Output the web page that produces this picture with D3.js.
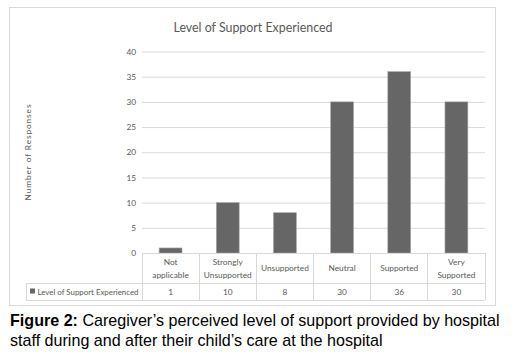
<!DOCTYPE html>
<html>
<head>
<meta charset="utf-8">
<script src="https://cdn.jsdelivr.net/npm/d3@7"></script>
<style>
  body { margin: 0; background: #fff; }
  svg { display: block; }
</style>
</head>
<body>
<svg id="chart"></svg>
<script>
// chart data
const categories = [["Not", "applicable"], ["Strongly", "Unsupported"], ["Unsupported"], ["Neutral"], ["Supported"], ["Very", "Supported"]];
const values = [1, 10, 8, 30, 36, 30];
const yTicks = [0, 5, 10, 15, 20, 25, 30, 35, 40];
const seriesName = "Level of Support Experienced";
const chartTitle = "Level of Support Experienced";
const yTitle = "Number of Responses";

const W = 531, H = 360;
const chartFont = "Lato, 'Open Sans', sans-serif";
const textGray = "#595959";
const lineGray = "#d9d9d9";
const small = 8.3;

const svg = d3.select("#chart").attr("width", W).attr("height", H);

// outer chart frame
svg.append("rect")
    .attr("x", 9.5).attr("y", 7.5)
    .attr("width", 486).attr("height", 298)
    .attr("fill", "#fff")
    .attr("stroke", lineGray);

const plot = { left: 142, right: 485, top: 51.5, bottom: 253 };

const x = d3.scaleBand()
    .domain(d3.range(categories.length))
    .range([plot.left, plot.right])
    .paddingInner(0.6).paddingOuter(0.3);

const band = d3.scaleBand()
    .domain(d3.range(categories.length))
    .range([plot.left, plot.right]);

const y = d3.scaleLinear().domain([0, 40]).range([plot.bottom, plot.top]);

// title
svg.append("text")
    .attr("x", 253).attr("y", 32)
    .attr("text-anchor", "middle")
    .attr("font-family", chartFont).attr("font-size", 12.4)
    .attr("fill", textGray)
    .text(chartTitle);

// gridlines + y labels
const yAxis = d3.axisLeft(y).tickValues(yTicks)
    .tickSize(-(plot.right - plot.left)).tickPadding(6);
const yg = svg.append("g")
    .attr("transform", `translate(${plot.left},0)`)
    .call(yAxis);
yg.select(".domain").remove();
yg.selectAll(".tick line").attr("stroke", lineGray);
yg.selectAll(".tick text")
    .attr("font-family", chartFont).attr("font-size", small)
    .attr("fill", textGray);

// y title
svg.append("text")
    .attr("transform", `translate(31,152) rotate(-90)`)
    .attr("text-anchor", "middle")
    .attr("font-family", chartFont).attr("font-size", small)
    .attr("letter-spacing", 0.9)
    .attr("fill", textGray)
    .text(yTitle);

// bars
svg.append("g").selectAll("rect")
    .data(values)
    .join("rect")
    .attr("x", (d, i) => x(i))
    .attr("y", d => y(d))
    .attr("width", x.bandwidth())
    .attr("height", d => y(0) - y(d))
    .attr("fill", "#666666")
    .attr("stroke", "#a6a6a6")
    .attr("stroke-width", 0.6);

// data table
const rowTop = plot.bottom, rowMid = 283, rowBot = 300, legendLeft = 26;
const tbl = svg.append("g")
    .attr("stroke", lineGray).attr("fill", "none").attr("shape-rendering", "crispEdges");
tbl.append("line").attr("x1", plot.left).attr("x2", plot.right).attr("y1", rowTop).attr("y2", rowTop);
tbl.append("line").attr("x1", legendLeft).attr("x2", plot.right).attr("y1", rowMid).attr("y2", rowMid);
tbl.append("line").attr("x1", legendLeft).attr("x2", plot.right).attr("y1", rowBot).attr("y2", rowBot);
tbl.append("line").attr("x1", legendLeft).attr("x2", legendLeft).attr("y1", rowMid).attr("y2", rowBot);
tbl.selectAll(".vline")
    .data(d3.range(categories.length + 1))
    .join("line")
    .attr("x1", i => i < categories.length ? band(i) : plot.right)
    .attr("x2", i => i < categories.length ? band(i) : plot.right)
    .attr("y1", rowTop).attr("y2", rowBot);

// category labels
const catG = svg.append("g")
    .attr("font-family", chartFont).attr("font-size", small)
    .attr("fill", textGray).attr("text-anchor", "middle");
categories.forEach((lines, i) => {
    const cx = band(i) + band.bandwidth() / 2;
    const start = lines.length === 1 ? 271 : 265;
    lines.forEach((ln, j) => {
        catG.append("text").attr("x", cx).attr("y", start + j * 12.5).text(ln);
    });
    catG.append("text").attr("x", cx).attr("y", 294.5).text(values[i]);
});

// legend key
svg.append("rect")
    .attr("x", 30).attr("y", 288.5).attr("width", 5).attr("height", 5)
    .attr("fill", "#666666");
svg.append("text")
    .attr("x", 37.5).attr("y", 294.5)
    .attr("font-family", chartFont).attr("font-size", small)
    .attr("textLength", 101).attr("lengthAdjust", "spacingAndGlyphs")
    .attr("fill", textGray)
    .text(seriesName);

// caption
const cap = svg.append("text")
    .attr("font-family", "'Liberation Sans', Arial, sans-serif")
    .attr("font-size", 16.1).attr("fill", "#000");
const l1 = cap.append("tspan").attr("x", 10).attr("y", 326);
l1.append("tspan").attr("font-weight", "bold").text("Figure 2:");
l1.append("tspan").text(" Caregiver\u2019s perceived level of support provided by hospital");
cap.append("tspan").attr("x", 10).attr("y", 346)
    .text("staff during and after their child\u2019s care at the hospital");
</script>
</body>
</html>
